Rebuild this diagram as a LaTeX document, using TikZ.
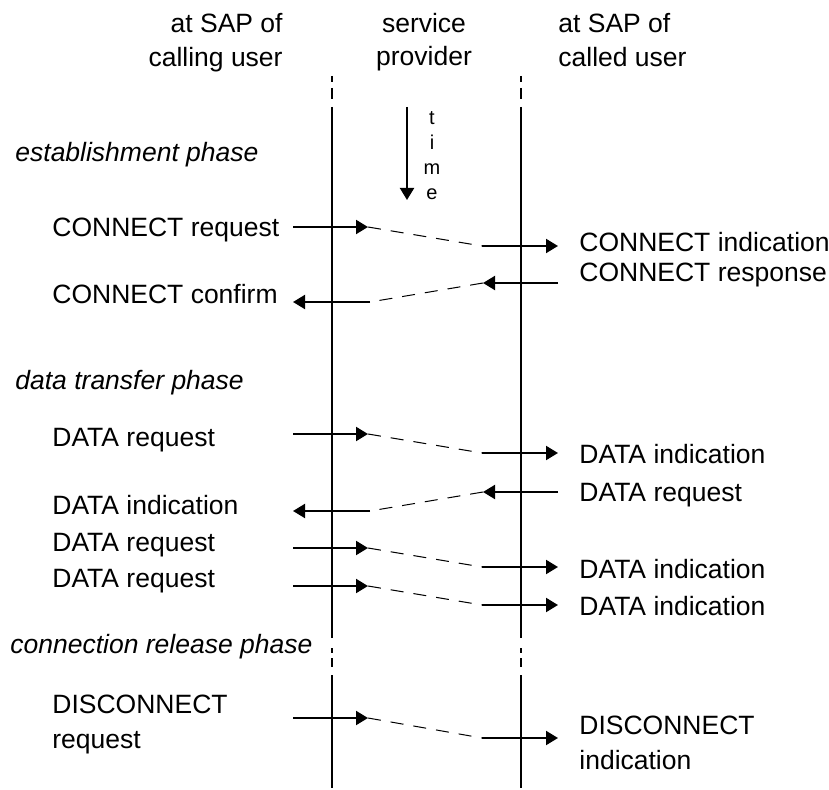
\documentclass[tikz,border=0pt]{standalone}
\usepackage{fontspec}
\setmainfont{Liberation Sans}
\usetikzlibrary{arrows.meta}
\begin{document}
\begin{tikzpicture}[x=0.5pt,y=-0.5pt,
  lbl/.style={inner sep=0pt,font=\fontsize{13.25pt}{16pt}\selectfont},
  phs/.style={lbl,font=\fontsize{13.25pt}{16pt}\selectfont\itshape},
  tm/.style={inner sep=0pt,font=\fontsize{10pt}{12pt}\selectfont},
  life/.style={line width=1pt},
  msg/.style={line width=1pt,-{Triangle[length=6pt,width=7pt]}},
  transit/.style={line width=0.5pt,dash pattern=on 6.5pt off 5pt}]
\useasboundingbox (0,0) rectangle (829,790);
% headers
\node[lbl,anchor=base east] (h1a) at (283,33) {at SAP of};
\node[lbl,anchor=base east] (h1b) at (283,67) {calling user};
\node[lbl,anchor=base] (h2a) at (424,33) {service};
\node[lbl,anchor=base] (h2b) at (424,66) {provider};
\node[lbl,anchor=base west] (h3a) at (558,33) {at SAP of};
\node[lbl,anchor=base west] (h3b) at (558,67) {called user};
% life lines
\foreach \x/\n in {332/L,521/R}{
  \coordinate (\n d1a) at (\x,76); \coordinate (\n d1b) at (\x,82);
  \coordinate (\n d2a) at (\x,88); \coordinate (\n d2b) at (\x,99);
  \coordinate (\n s1a) at (\x,107); \coordinate (\n s1b) at (\x,638);
  \coordinate (\n d3a) at (\x,648); \coordinate (\n d3b) at (\x,653);
  \coordinate (\n d4a) at (\x,658); \coordinate (\n d4b) at (\x,667);
  \coordinate (\n s2a) at (\x,675); \coordinate (\n s2b) at (\x,788);
  \draw[life] (\n d1a) -- (\n d1b);
  \draw[life] (\n d2a) -- (\n d2b);
  \draw[life] (\n s1a) -- (\n s1b);
  \draw[life] (\n d3a) -- (\n d3b);
  \draw[life] (\n d4a) -- (\n d4b);
  \draw[life] (\n s2a) -- (\n s2b);
}
% time arrow
\coordinate (t0) at (407,107);
\coordinate (t1) at (407,200);
\draw[msg] (t0) -- (t1);
\node[tm,anchor=base] (tt) at (432,125) {t};
\node[tm,anchor=base] (ti) at (432,150) {i};
\node[tm,anchor=base] (tmm) at (432,175) {m};
\node[tm,anchor=base] (te) at (432,200) {e};
% phases
\node[phs,anchor=base west] (p1) at (15,162) {establishment phase};
\node[phs,anchor=base west] (p2) at (15,390) {data transfer phase};
\node[phs,anchor=base west] (p3) at (10,653) {connection release phase};
% left labels
\node[lbl,anchor=base west] (l1) at (52,237) {CONNECT request};
\node[lbl,anchor=base west] (l2) at (52,304) {CONNECT confirm};
\node[lbl,anchor=base west] (l3) at (52,447) {DATA request};
\node[lbl,anchor=base west] (l4) at (52,514) {DATA indication};
\node[lbl,anchor=base west] (l5) at (52,551) {DATA request};
\node[lbl,anchor=base west] (l6) at (52,587) {DATA request};
\node[lbl,anchor=base west] (l7a) at (52,713) {DISCONNECT};
\node[lbl,anchor=base west] (l7b) at (52,748) {request};
% right labels
\node[lbl,anchor=base west] (r1) at (579,252) {CONNECT indication};
\node[lbl,anchor=base west] (r2) at (579,282) {CONNECT response};
\node[lbl,anchor=base west] (r3) at (579,464) {DATA indication};
\node[lbl,anchor=base west] (r4) at (579,502) {DATA request};
\node[lbl,anchor=base west] (r5) at (579,578) {DATA indication};
\node[lbl,anchor=base west] (r6) at (579,615) {DATA indication};
\node[lbl,anchor=base west] (r7a) at (579,734) {DISCONNECT};
\node[lbl,anchor=base west] (r7b) at (579,769) {indication};
% forward messages: name / y1 / y2
\foreach \n/\ya/\yb in {f1/227/246, f2/434/453, f3/548/567, f4/586/605, f5/718/738}{
  \coordinate (\n a) at (293,\ya);
  \coordinate (\n b) at (368,\ya);
  \coordinate (\n c) at (482,\yb);
  \coordinate (\n d) at (558,\yb);
  \draw[msg] (\n a) -- (\n b);
  \draw[transit] (\n b) -- (\n c);
  \draw[msg] (\n c) -- (\n d);
}
% backward messages
\foreach \n/\ya/\yb in {b1/283/302, b2/492/511}{
  \coordinate (\n a) at (558,\ya);
  \coordinate (\n b) at (483,\ya);
  \coordinate (\n c) at (370,\yb);
  \coordinate (\n d) at (293,\yb);
  \draw[msg] (\n a) -- (\n b);
  \draw[transit] (\n b) -- (\n c);
  \draw[msg] (\n c) -- (\n d);
}
\end{tikzpicture}
\end{document}
